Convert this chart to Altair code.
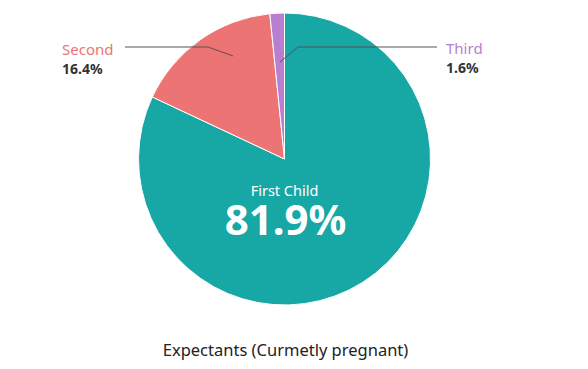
import altair as alt
import pandas as pd

categories = ["First Child", "Second", "Third"]
values = [81.9, 16.4, 1.6]
colors = ["#17A7A5", "#EC7474", "#B87ECF"]
title_text = "Expectants (Curmetly pregnant)"

df = pd.DataFrame({"category": categories, "value": values, "order": [0, 1, 2]})
df["label"] = [f"{v}%" for v in values]

W, H = 572, 353
CX, CY, R = 276.5, 151, 146
FONT = "Noto Sans"

base = alt.Chart(df)

pie = base.mark_arc(radius=R, stroke="white", strokeWidth=1).encode(
    theta=alt.Theta("value:Q", stack=True),
    order=alt.Order("order:Q"),
    color=alt.Color("category:N", scale=alt.Scale(domain=categories, range=colors), legend=None),
    x=alt.value(CX),
    y=alt.value(CY),
)

def one(cat):
    return base.transform_filter(alt.datum.category == cat)

# leader lines
lines_df = pd.DataFrame({
    "x": [117, 200, 272, 290],
    "y": [39, 39, 54, 39],
    "x2": [200, 225, 290, 429],
    "y2": [39, 48, 39, 39],
})
leaders = alt.Chart(lines_df).mark_rule(color="#555555", strokeWidth=1).encode(
    x=alt.X("x:Q", scale=alt.Scale(domain=[0, W], range=[0, W]), axis=None),
    x2="x2:Q",
    y=alt.Y("y:Q", scale=alt.Scale(domain=[0, H], range=[0, H]), axis=None),
    y2="y2:Q",
)

second_name = one("Second").mark_text(align="left", baseline="alphabetic", font=FONT, fontSize=15, color=colors[1]).encode(
    x=alt.value(54), y=alt.value(47), text="category:N")
second_val = one("Second").mark_text(align="left", baseline="alphabetic", font=FONT, fontSize=14, fontWeight="bold", color="#333333").encode(
    x=alt.value(54), y=alt.value(66), text="label:N")
third_name = one("Third").mark_text(align="left", baseline="alphabetic", font=FONT, fontSize=15, color=colors[2]).encode(
    x=alt.value(438), y=alt.value(46), text="category:N")
third_val = one("Third").mark_text(align="left", baseline="alphabetic", font=FONT, fontSize=14, fontWeight="bold", color="#333333").encode(
    x=alt.value(438), y=alt.value(65), text="label:N")
first_name = one("First Child").mark_text(align="center", baseline="alphabetic", font=FONT, fontSize=14.5, color="white").encode(
    x=alt.value(CX), y=alt.value(188), text="category:N")
first_val = one("First Child").mark_text(align="center", baseline="alphabetic", font=FONT, fontSize=42, fontWeight="bold", color="white").encode(
    x=alt.value(CX + 1), y=alt.value(227), text="label:N")

title = alt.Chart(pd.DataFrame({"t": [title_text]})).mark_text(
    align="center", baseline="alphabetic", font=FONT, fontSize=16.5, color="#222222"
).encode(x=alt.value(CX + 1), y=alt.value(348), text="t:N")

chart = alt.layer(
    pie, leaders, second_name, second_val, third_name, third_val, first_name, first_val, title
).resolve_scale(x="independent", y="independent").properties(
    width=W, height=H, autosize=alt.AutoSizeParams(type="none"), padding=0, background="white"
).configure_view(stroke=None)

chart.save("out.html", embed_options={"renderer": "svg", "actions": False})
